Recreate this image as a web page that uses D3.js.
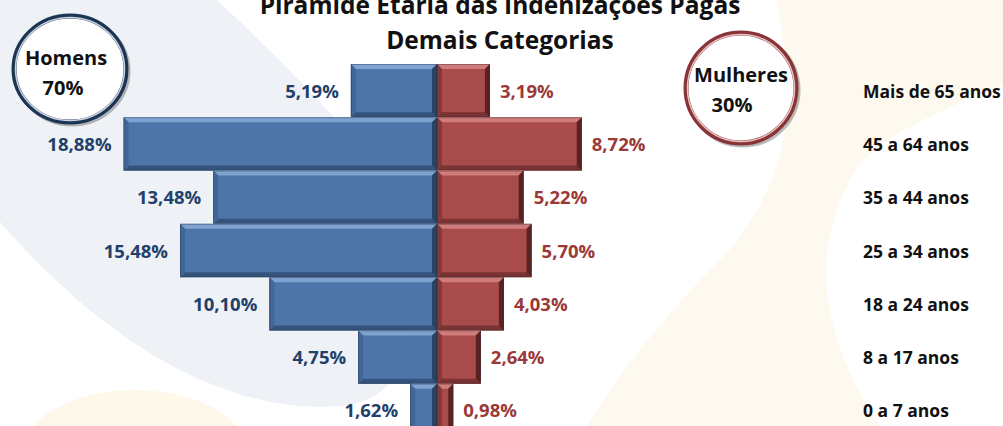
<!DOCTYPE html>
<html><head><meta charset="utf-8">
<script src="https://cdn.jsdelivr.net/npm/d3@7"></script>
<style>
html,body{margin:0;padding:0;background:#fff;overflow:hidden}
svg{display:block}
text{font-family:"Open Sans",sans-serif;font-weight:bold}
</style></head>
<body>
<svg id="chart" width="1003" height="426"></svg>
<script>
const titleLines = ["Pirâmide Etária das Indenizações Pagas", "Demais Categorias"];
const categories = ["Mais de 65 anos","45 a 64 anos","35 a 44 anos","25 a 34 anos","18 a 24 anos","8 a 17 anos","0 a 7 anos"];
const homens = [5.19, 18.88, 13.48, 15.48, 10.10, 4.75, 1.62];
const mulheres = [3.19, 8.72, 5.22, 5.70, 4.03, 2.64, 0.98];
const totals = [{name:"Homens", value:"70%"}, {name:"Mulheres", value:"30%"}];

const svg = d3.select("#chart");
const cx = 437;

// faint background watermark
const bg = svg.append("g");
bg.append("path").attr("fill","#eef2f6")
  .attr("d","M0,0 L217,0 C260,40 300,80 332,115 C380,190 410,270 408,330 C404,380 380,402 340,406 C240,414 120,360 0,222 Z");
bg.append("ellipse").attr("cx",135).attr("cy",450).attr("rx",110).attr("ry",60).attr("fill","#fdf8ea");
bg.append("path").attr("fill","#fdf9ef")
  .attr("d","M777,0 L1003,0 L1003,85 C940,110 870,140 850,180 C835,210 822,250 827,290 C832,340 855,390 880,426 L587,426 C620,370 670,310 720,260 C760,220 785,160 787,110 C788,60 780,20 777,0 Z");

const xs = d3.scaleLinear().domain([0, 20]).range([0, 332]);
const ys = d3.scaleBand().domain(categories).range([64, 437]).padding(0);

function bevelBar(g, x, y, w, h, side, c) {
  const b = Math.min(5, w / 2);
  g.append("rect").attr("x",x).attr("y",y).attr("width",w).attr("height",h).attr("fill",c.fill);
  const poly = (pts, col) => g.append("polygon").attr("points", pts.map(p=>p.join(",")).join(" ")).attr("fill", col);
  poly([[x,y],[x+w,y],[x+w-b,y+b],[x+b,y+b]], c.top);
  poly([[x,y+h],[x+w,y+h],[x+w-b,y+h-b],[x+b,y+h-b]], c.bottom);
  const leftCol = side === "L" ? c.outer : c.inner;
  const rightCol = side === "L" ? c.inner : c.outer;
  poly([[x,y],[x+b,y+b],[x+b,y+h-b],[x,y+h]], leftCol);
  poly([[x+w,y],[x+w-b,y+b],[x+w-b,y+h-b],[x+w,y+h]], rightCol);
  g.append("rect").attr("x",x+0.5).attr("y",y+0.5).attr("width",Math.max(0,w-1)).attr("height",h-1)
    .attr("fill","none").attr("stroke","rgba(40,40,50,0.35)").attr("stroke-width",1);
}

const blue = {fill:"#4d75a7", top:"#7ea3d0", bottom:"#34547e", outer:"#41679a", inner:"#2a4365"};
const red = {fill:"#a84b4b", top:"#cf7c7a", bottom:"#7a3232", outer:"#5a2222", inner:"#873838"};

const bars = svg.append("g");
categories.forEach((cat, i) => {
  const y = ys(cat), h = ys.bandwidth();
  bevelBar(bars, cx - xs(homens[i]), y, xs(homens[i]), h, "L", blue);
  bevelBar(bars, cx, y, xs(mulheres[i]), h, "R", red);
});

const fmt = v => v.toFixed(2).replace(".", ",") + "%";
const labels = svg.append("g").style("font-size","18.5px");
categories.forEach((cat, i) => {
  const yc = ys(cat) + ys.bandwidth() / 2 + 7;
  labels.append("text").attr("x", cx - xs(homens[i]) - 12).attr("y", yc)
    .attr("text-anchor","end").attr("fill","#22406a").text(fmt(homens[i]));
  labels.append("text").attr("x", cx + xs(mulheres[i]) + 10).attr("y", yc)
    .attr("text-anchor","start").attr("fill","#9b3838").text(fmt(mulheres[i]));
  svg.append("text").attr("x", 863).attr("y", yc).attr("fill","#111")
    .style("font-size","17.5px").text(cat);
});

// title
svg.append("text").attr("x", 500).attr("y", 14).attr("text-anchor","middle")
  .style("font-size","24.5px").attr("fill","#111").text(titleLines[0]);
svg.append("text").attr("x", 500).attr("y", 49).attr("text-anchor","middle")
  .style("font-size","24.5px").attr("fill","#111").text(titleLines[1]);

// circles
function ring(cxp, cyp, rx, ry, col, light) {
  const g = svg.append("g");
  g.append("ellipse").attr("cx",cxp+2).attr("cy",cyp+2).attr("rx",rx).attr("ry",ry)
    .attr("fill","none").attr("stroke","rgba(60,60,60,0.35)").attr("stroke-width",5);
  g.append("ellipse").attr("cx",cxp).attr("cy",cyp).attr("rx",rx).attr("ry",ry)
    .attr("fill","#fff").attr("stroke",col).attr("stroke-width",5);
  g.append("ellipse").attr("cx",cxp).attr("cy",cyp).attr("rx",rx-1.5).attr("ry",ry-1.5)
    .attr("fill","none").attr("stroke",light).attr("stroke-width",1.5);
  return g;
}
ring(70, 69, 56, 53, "#1d3554", "#c9d2de");
ring(741, 88, 55, 55, "#8a3438", "#e6c4c4");

svg.append("text").attr("x",66).attr("y",65).attr("text-anchor","middle").style("font-size","20px").attr("fill","#111").text(totals[0].name);
svg.append("text").attr("x",63).attr("y",95).attr("text-anchor","middle").style("font-size","20px").attr("fill","#111").text(totals[0].value);
svg.append("text").attr("x",741).attr("y",82).attr("text-anchor","middle").style("font-size","20px").attr("fill","#111").text(totals[1].name);
svg.append("text").attr("x",732).attr("y",112).attr("text-anchor","middle").style("font-size","20px").attr("fill","#111").text(totals[1].value);
</script>
</body></html>
